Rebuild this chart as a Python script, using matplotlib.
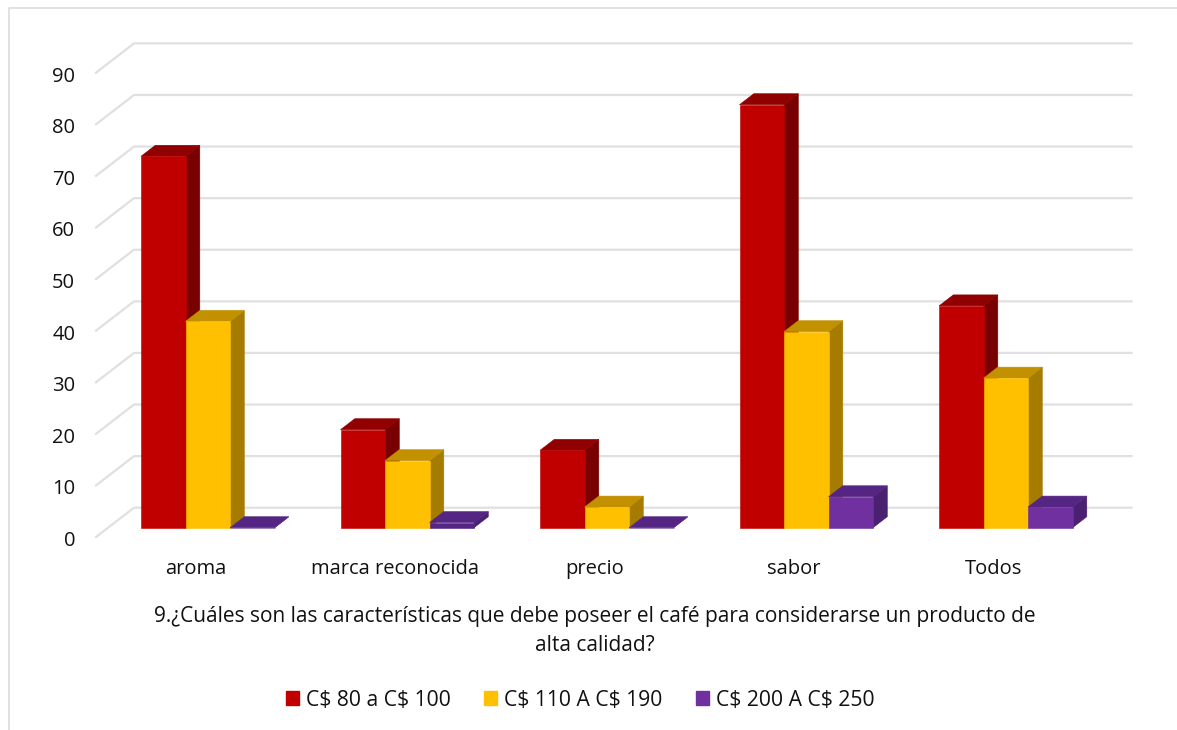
import matplotlib
matplotlib.use('Agg')
import matplotlib.pyplot as plt
from matplotlib.patches import Patch, Polygon
from matplotlib.lines import Line2D
from matplotlib.transforms import ScaledTranslation

plt.rcParams['font.family'] = ['Open Sans', 'DejaVu Sans']

categories = ['aroma', 'marca reconocida', 'precio', 'sabor', 'Todos']
series_names = [r'C\$ 80 a C\$ 100', r'C\$ 110 A C\$ 190', r'C\$ 200 A C\$ 250']
low_price = [72, 19, 15, 82, 43]
mid_price = [40, 13, 4, 38, 29]
high_price = [0, 1, 0, 6, 4]
y_ticks = [0, 10, 20, 30, 40, 50, 60, 70, 80, 90]
axis_title = ('9.¿Cuáles son las características que debe poseer el café '
              'para considerarse un producto de\nalta calidad?')

# front, side, top shades for each series
shades = [('#C00000', '#780000', '#900000'),
          ('#FFC000', '#A67C00', '#C39000'),
          ('#7030A0', '#4A2070', '#552583')]

W, H = 1177, 730
fig = plt.figure(figsize=(W / 100, H / 100), dpi=100)

# axes rectangle is the front of the floor, in pixels
left, right, bottom, top = 96, 1093.5, 537, 72.7
ax = fig.add_axes([left / W, 1 - bottom / H, (right - left) / W, (bottom - top) / H])
ax.set_xlim(-0.5, 4.5)
ax.set_ylim(0, 90)

# oblique projection: depth 1 is the back wall
depth_x = 38 / ((right - left) / 5)
depth_y = 29.3 / ((bottom - top) / 90)


def project(x, value, depth):
    return x + depth * depth_x, value + depth * depth_y


for tick in y_ticks:
    pts = [project(-0.5, tick, 0), project(-0.5, tick, 1), project(4.5, tick, 1)]
    ax.add_line(Line2D([p[0] for p in pts], [p[1] for p in pts], color='#E0E0E0',
                       lw=1.6, clip_on=False, zorder=1))

bar_w = 44.5 / ((right - left) / 5)
d0, d1 = 0.317, 0.692


def draw_bar(x0, value, colors, z):
    x1 = x0 + bar_w
    side = [project(x1, 0, d0), project(x1, 0, d1), project(x1, value, d1), project(x1, value, d0)]
    roof = [project(x0, value, d0), project(x1, value, d0), project(x1, value, d1), project(x0, value, d1)]
    front = [project(x0, 0, d0), project(x1, 0, d0), project(x1, value, d0), project(x0, value, d0)]
    # very short bars show no lighter front in the original
    front_col = colors[2] if value < 2 else colors[0]
    for pts, col in [(side, colors[1]), (roof, colors[2]), (front, front_col)]:
        ax.add_patch(Polygon(pts, closed=True, facecolor=col, edgecolor=col, lw=0.4,
                             clip_on=False, zorder=z))


z = 2
for i in range(len(categories)):
    for j, vals in enumerate([low_price, mid_price, high_price]):
        draw_bar(i + (j - 1.5) * bar_w, vals[i], shades[j], z)
        z += 1

for s in ax.spines.values():
    s.set_visible(False)
ax.set_xticks(range(len(categories)))
ax.set_xticklabels(categories, fontsize=14.5, color='#111111')
ax.set_yticks(y_ticks)
ax.tick_params(axis='both', length=0)
ax.tick_params(axis='x', pad=16)
ax.tick_params(axis='y', pad=15, labelsize=14.5, labelcolor='#111111')
# y labels sit a little below their gridline ends
nudge = ScaledTranslation(0, -1.5 / 100, fig.dpi_scale_trans)
for lab in ax.get_yticklabels():
    lab.set_transform(lab.get_transform() + nudge)
ax.set_xlabel(axis_title, fontsize=15, linespacing=1.52, labelpad=19, color='#111111')

handles = [Patch(facecolor=shades[k][0], edgecolor=shades[k][0]) for k in range(3)]
fig.legend(handles, series_names, loc='center', bbox_to_anchor=(580.5 / W, 1 - 700 / H),
           ncol=3, frameon=False, fontsize=15.2, labelcolor='#111111', handlelength=0.6,
           handleheight=0.6, handletextpad=0.35, columnspacing=1.58)

# chart area border: only top and left show in the crop
fig.add_artist(Line2D([8.5 / W, 8.5 / W, 1], [0, 1 - 8 / H, 1 - 8 / H],
                      color='#DCDCDC', lw=1.2))

fig.savefig('out.png', dpi=100)
